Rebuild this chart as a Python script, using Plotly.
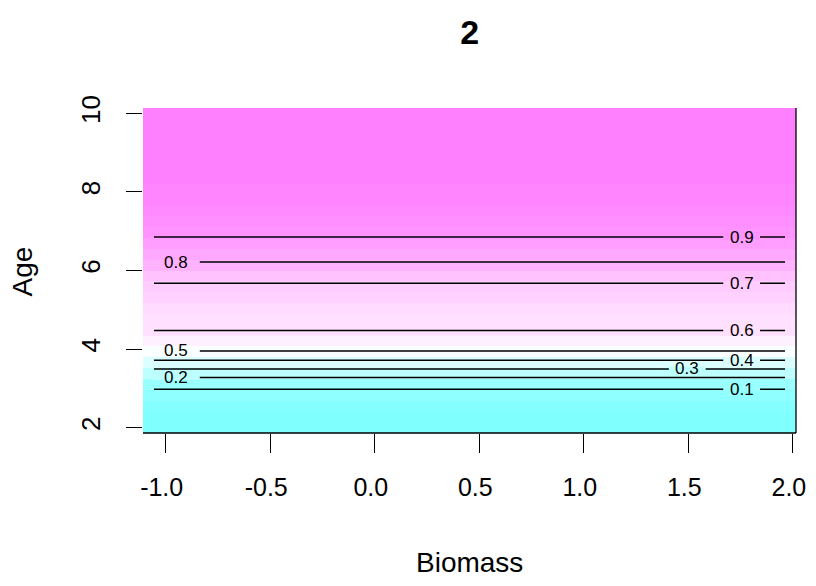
import numpy as np
import plotly.graph_objects as go

# ---------------- data ----------------
title_text = "2"
x_title = "Biomass"
y_title = "Age"

# evaluation grid of the smooth (30 x 30)
biomass = [-1.0565, -0.9524, -0.8483, -0.7441, -0.6400, -0.5359, -0.4318, -0.3277,
           -0.2235, -0.1194, -0.0153, 0.0888, 0.1929, 0.2971, 0.4012, 0.5053,
           0.6094, 0.7135, 0.8177, 0.9218, 1.0259, 1.1300, 1.2341, 1.3383,
           1.4424, 1.5465, 1.6506, 1.7547, 1.8589, 1.9630]
age = [2.000, 2.276, 2.552, 2.828, 3.103, 3.379, 3.655, 3.931, 4.207, 4.483,
       4.759, 5.034, 5.310, 5.586, 5.862, 6.138, 6.414, 6.690, 6.966, 7.241,
       7.517, 7.793, 8.069, 8.345, 8.621, 8.897, 9.172, 9.448, 9.724, 10.000]
# fitted probability for each Age row (constant along Biomass)
prob_by_age = [0.010, 0.020, 0.038, 0.070, 0.125, 0.247, 0.375, 0.496, 0.551, 0.602,
               0.620, 0.640, 0.662, 0.685, 0.733, 0.787, 0.833, 0.877, 0.916, 0.935,
               0.951, 0.963, 0.972, 0.979, 0.984, 0.988, 0.991, 0.993, 0.995, 0.996]

contour_levels = [0.1, 0.2, 0.3, 0.4, 0.5, 0.6, 0.7, 0.8, 0.9]
contour_labels = ["0.1", "0.2", "0.3", "0.4", "0.5", "0.6", "0.7", "0.8", "0.9"]

x_tickvals = [-1.0, -0.5, 0.0, 0.5, 1.0, 1.5, 2.0]
x_ticktext = ["-1.0", "-0.5", "0.0", "0.5", "1.0", "1.5", "2.0"]
y_tickvals = [2, 4, 6, 8, 10]
y_ticktext = ["2", "4", "6", "8", "10"]

# ---------------- styling ----------------
FONT = "Liberation Sans, Arial, sans-serif"
LABEL_X = {"0.1": 1.755, "0.2": -0.949, "0.3": 1.495, "0.4": 1.755, "0.5": -0.949,
           "0.6": 1.755, "0.7": 1.755, "0.8": -0.949, "0.9": 1.755}
GAP_HALF = {"left": 0.112, "right": 0.088}
N_COL = 50
W, H = 800, 570   # page body keeps an 8px margin inside the 816x586 window
ML, MR, MT, MB = 135, 11.5, 100, 144.7
PLOT_W = W - ML - MR


def cm_colors(n):
    even = n % 2 == 0
    k = n // 2
    l1 = k + 1 - int(even)
    l2 = n - k + int(even)
    s1 = np.linspace(0.5, 0.5 / k if even else 0.0, l1)
    s2 = np.linspace(0.0, 0.5, l2)[1:]
    out = []
    for s in s1:  # cyan side, hsv(6/12, s, 1)
        r = int((1 - s) * 255 + 0.5)
        out.append("#%02X%02X%02X" % (r, 255, 255))
    for s in s2:  # magenta side, hsv(10/12, s, 1)
        g = int((1 - s) * 255 + 0.5)
        out.append("#%02X%02X%02X" % (255, g, 255))
    return out


pal = cm_colors(N_COL)
colorscale = []
for i, c in enumerate(pal):
    colorscale.append([i / N_COL, c])
    colorscale.append([(i + 1) / N_COL, c])

zmin, zmax = min(prob_by_age), max(prob_by_age)
z = [[p] * len(biomass) for p in prob_by_age]


def color_of(v):
    b = int((v - zmin) / (zmax - zmin) * N_COL)
    b = max(0, min(N_COL - 1, b))
    return pal[b]


dx = (biomass[1] - biomass[0]) / 2
dy = (age[1] - age[0]) / 2
x_range = [biomass[0] - dx, biomass[-1] + dx]
y_range = [age[0] - dy, age[-1] + dy]

fig = go.Figure()
fig.add_trace(go.Heatmap(x=biomass, y=age, z=z, colorscale=colorscale,
                         zmin=zmin, zmax=zmax, zsmooth=False, showscale=False,
                         hoverinfo="skip"))
fig.add_trace(go.Contour(x=biomass, y=age, z=z, showscale=False,
                         contours=dict(start=contour_levels[0], end=contour_levels[-1],
                                       size=0.1, coloring="none", showlabels=False),
                         line=dict(color="black", width=1.5), hoverinfo="skip"))

shapes = []
annotations = []
age_arr = np.array(age)
for lev, lab in zip(contour_levels, contour_labels):
    yc = float(np.interp(lev, prob_by_age, age))
    idx = int(np.argmin(np.abs(age_arr - yc)))
    gap_col = color_of(prob_by_age[idx])
    lx = LABEL_X[lab]
    half = GAP_HALF["left"] if lx < 0 else GAP_HALF["right"]
    shapes.append(dict(type="rect", xref="x", yref="y", x0=lx - half, x1=lx + half,
                       y0=yc - 0.06, y1=yc + 0.06, fillcolor=gap_col,
                       line=dict(width=0), layer="above"))
    annotations.append(dict(x=lx, y=yc, xref="x", yref="y", text=lab, showarrow=False,
                            xanchor="center", yanchor="middle",
                            font=dict(family=FONT, size=17, color="black")))

# box lines (bottom and right)
shapes.append(dict(type="line", xref="paper", yref="paper", x0=0, x1=1, y0=0, y1=0,
                   line=dict(color="black", width=1.3), layer="above"))
shapes.append(dict(type="line", xref="paper", yref="paper", x0=1, x1=1, y0=0, y1=1,
                   line=dict(color="black", width=1.3), layer="above"))

# axis titles
annotations.append(dict(x=0.5, y=-0.3987, xref="paper", yref="paper", text=x_title,
                        showarrow=False, xanchor="center", yanchor="middle",
                        font=dict(family=FONT, size=28, color="black")))
annotations.append(dict(x=-0.1844, y=0.496, xref="paper", yref="paper", text=y_title,
                        showarrow=False, xanchor="center", yanchor="middle", textangle=-90,
                        font=dict(family=FONT, size=28, color="black")))

fig.update_layout(
    width=W, height=H,
    margin=dict(l=ML, r=MR, t=MT, b=MB, pad=0, autoexpand=False),
    paper_bgcolor="white", plot_bgcolor="white",
    title=dict(text="<b>" + title_text + "</b>", x=(ML + PLOT_W / 2) / W, xanchor="center",
               y=1 - 24 / H, yanchor="middle", yref="container",
               font=dict(family=FONT, size=34, color="black")),
    shapes=shapes, annotations=annotations, showlegend=False,
)
fig.update_xaxes(range=x_range, tickvals=x_tickvals, ticktext=x_ticktext,
                 ticks="outside", ticklen=19, tickwidth=1.2, tickcolor="black",
                 showline=False, showgrid=False, zeroline=False, automargin=False,
                 tickfont=dict(family=FONT, size=25, color="black"),
                 ticklabelstandoff=13, ticklabelshift=-4)
fig.update_yaxes(range=y_range, tickvals=y_tickvals, ticktext=y_ticktext,
                 ticks="outside", ticklen=16, tickwidth=1.2, tickcolor="black",
                 showline=False, showgrid=False, zeroline=False, tickangle=-90,
                 automargin=False,
                 tickfont=dict(family=FONT, size=26, color="black"),
                 ticklabelstandoff=16)

fig.write_html("out.html")
